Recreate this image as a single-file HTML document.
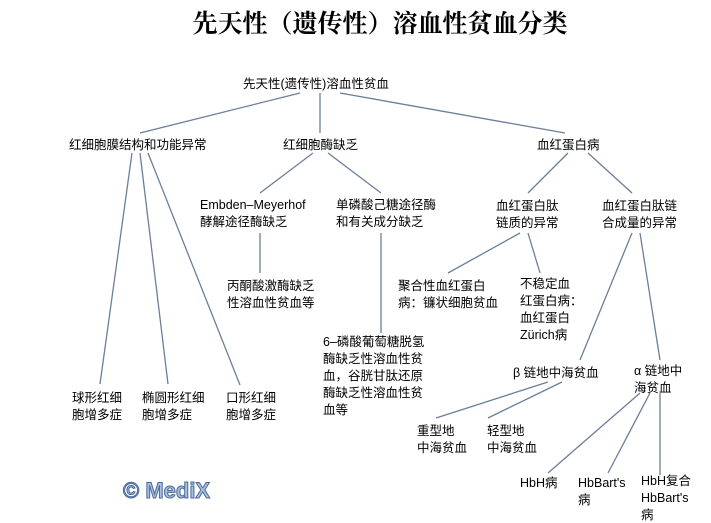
<!DOCTYPE html>
<html><head><meta charset="utf-8"><style>
html,body{margin:0;padding:0;background:#fff;}
svg{display:block;}
text{font-family:"Liberation Sans","Noto Sans CJK SC",sans-serif;font-size:12.5px;fill:#000;}
.t{font-family:"Liberation Serif","Noto Serif CJK SC",serif;font-size:25px;font-weight:bold;}
line{stroke:#6a7f9a;stroke-width:1.3;}
.m{font-family:"Liberation Sans",sans-serif;font-size:22px;font-weight:bold;fill:#a9bfe0;stroke:#4a6a9a;stroke-width:1;}
</style></head><body>
<svg width="711" height="523" viewBox="0 0 711 523">
<text class="t" x="380" y="32" text-anchor="middle">先天性（遗传性）溶血性贫血分类</text>
<text x="243" y="88">先天性(遗传性)溶血性贫血</text>
<line x1="300" y1="93" x2="140" y2="133"/>
<line x1="320" y1="93" x2="320" y2="133"/>
<line x1="340" y1="93" x2="565" y2="133"/>
<text x="69" y="149">红细胞膜结构和功能异常</text>
<text x="283" y="149">红细胞酶缺乏</text>
<text x="537" y="149">血红蛋白病</text>
<line x1="132" y1="153" x2="100" y2="384"/>
<line x1="140" y1="153" x2="168" y2="384"/>
<line x1="148" y1="153" x2="240" y2="385"/>
<text x="72" y="402">球形红细</text><text x="72" y="419">胞增多症</text>
<text x="142" y="402">椭圆形红细</text><text x="142" y="419">胞增多症</text>
<text x="226" y="402">口形红细</text><text x="226" y="419">胞增多症</text>
<line x1="313" y1="153" x2="260" y2="193"/>
<line x1="328" y1="153" x2="381" y2="193"/>
<text x="200" y="209">Embden–Meyerhof</text><text x="200" y="226">酵解途径酶缺乏</text>
<line x1="260" y1="233" x2="260" y2="273"/>
<text x="227" y="290">丙酮酸激酶缺乏</text><text x="227" y="307">性溶血性贫血等</text>
<text x="336" y="209">单磷酸己糖途径酶</text><text x="336" y="226">和有关成分缺乏</text>
<line x1="381" y1="233" x2="381" y2="333"/>
<text x="323" y="346">6–磷酸葡萄糖脱氢</text>
<text x="323" y="363">酶缺乏性溶血性贫</text>
<text x="323" y="380">血，谷胱甘肽还原</text>
<text x="323" y="397">酶缺乏性溶血性贫</text>
<text x="323" y="414">血等</text>
<line x1="568" y1="153" x2="528" y2="193"/>
<line x1="588" y1="153" x2="632" y2="193"/>
<text x="496" y="210">血红蛋白肽</text><text x="496" y="227">链质的异常</text>
<text x="602" y="210">血红蛋白肽链</text><text x="602" y="227">合成量的异常</text>
<line x1="520" y1="233" x2="448" y2="273"/>
<line x1="528" y1="233" x2="540" y2="273"/>
<text x="398" y="290">聚合性血红蛋白</text><text x="398" y="307">病：镰状细胞贫血</text>
<text x="520" y="288">不稳定血</text><text x="520" y="305">红蛋白病：</text><text x="520" y="322">血红蛋白</text><text x="520" y="339">Zürich病</text>
<line x1="632" y1="233" x2="580" y2="360"/>
<line x1="640" y1="233" x2="660" y2="360"/>
<text x="513" y="377">β 链地中海贫血</text>
<text x="634" y="375">α 链地中</text><text x="634" y="392">海贫血</text>
<line x1="548" y1="382" x2="436" y2="418"/>
<line x1="562" y1="382" x2="488" y2="418"/>
<text x="417" y="435">重型地</text><text x="417" y="452">中海贫血</text>
<text x="487" y="435">轻型地</text><text x="487" y="452">中海贫血</text>
<line x1="640" y1="393" x2="548" y2="473"/>
<line x1="650" y1="393" x2="608" y2="473"/>
<line x1="660" y1="393" x2="660" y2="475"/>
<text x="520" y="487">HbH病</text>
<text x="578" y="487">HbBart's</text><text x="578" y="504">病</text>
<text x="641" y="485">HbH复合</text><text x="641" y="502">HbBart's</text><text x="641" y="519">病</text>
<text class="m" x="123" y="498">© MediX</text>
</svg>
</body></html>
